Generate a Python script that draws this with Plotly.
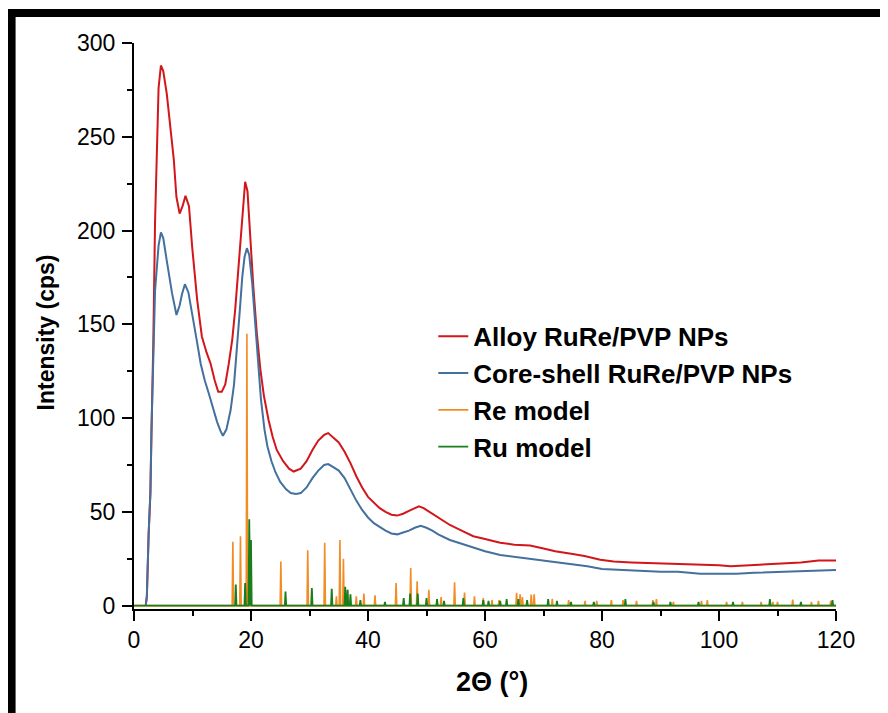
import plotly.graph_objects as go

# ---------------- data ----------------
alloy_2theta = [2.0, 2.2, 2.5, 2.8, 3.0, 3.3, 3.6, 3.9, 4.2, 4.6, 5.0, 5.6, 6.2, 6.8, 7.25, 7.8, 8.3, 8.8,
                9.4, 9.95, 10.8, 11.6, 12.4, 13.1, 13.8, 14.4, 15.0, 15.6, 16.2, 16.8, 17.3, 17.8, 18.2,
                18.6, 19.0, 19.4, 19.9, 20.4, 21.0, 21.6, 22.2, 23.0, 23.7, 24.4, 25.5, 26.5, 27.3, 28.5,
                29.5, 30.5, 31.5, 32.5, 33.2, 34, 35, 36, 37, 38, 39, 40, 41, 42, 43, 44, 45, 46, 47, 48,
                48.7, 49.5, 50.5, 52, 54, 56, 58, 60, 62.6, 65, 67.7, 70, 72, 75, 77, 79.7, 82, 85, 88,
                91, 94, 97, 100, 102, 105, 108, 111, 114, 117, 120]
alloy_intensity = [0, 5, 38, 60, 95, 140, 205, 248, 276, 288, 285, 273, 255, 238, 218, 209, 213, 218.5,
                   213, 191, 163, 143.5, 135, 129, 120, 114, 114, 118, 129, 142, 158, 178, 199,
                   215, 226, 221, 195, 170, 145, 126, 112, 99, 90, 83, 77, 73, 71.5, 73,
                   77, 83, 88, 91, 92, 90, 87, 82, 76, 69, 63, 58, 55, 52, 50, 48.5, 48, 49, 50.5, 52,
                   53, 52, 50, 47, 43, 40, 37, 35.5, 33.5, 32.5, 32, 30.5, 29, 27.5, 26.5, 24.5, 23.5, 23,
                   22.7, 22.5, 22, 21.5, 21.5, 21, 21.5, 22, 22.5, 23, 24, 24]

coreshell_2theta = [2.0, 2.2, 2.5, 2.8, 3.0, 3.3, 3.6, 3.9, 4.2, 4.6, 5.0, 5.6, 6.0, 6.5, 7.26, 7.8, 8.2,
                    8.7, 9.3, 9.95, 10.7, 11.4, 12.1, 12.8, 13.5, 14.2, 14.8, 15.2, 15.8, 16.5, 17.1,
                    17.6, 18.1, 18.5, 18.9, 19.3, 19.7, 20.2, 20.7, 21.2, 21.7, 22.3, 22.8, 23.5, 24.2,
                    25, 26, 26.8, 27.7, 28.5, 29.5, 30.5, 31.5, 32.5, 33.2, 34, 35, 36, 37, 38, 39, 40,
                    41, 42, 43, 44, 45, 46, 47, 48, 49, 50, 51, 52, 54, 56, 58, 60, 62.6, 65, 67.7, 70,
                    72.5, 75, 77.5, 80, 83, 86, 90, 93, 96.8, 100, 103, 106, 110, 113.8, 117, 120]
coreshell_intensity = [0, 5, 38, 60, 95, 140, 168, 180, 192, 199, 196, 184, 176, 166.6, 155, 160, 166,
                       171.4, 167, 156, 142, 129, 120, 113, 105, 98, 93, 90.6, 94, 104, 118,
                       136, 158, 175, 186, 190.6, 187, 172, 150, 128, 110, 94, 85, 77, 71,
                       66, 62, 60, 59.5, 60, 63, 68, 72, 75, 75.5, 74, 72, 68, 62, 56, 51, 47,
                       44, 42, 40, 38.5, 38, 39, 40, 41.5, 42.5, 41.5, 40, 38, 35, 33, 31, 29, 27, 26, 25, 24,
                       23, 22, 21, 19.5, 19, 18.5, 18, 18, 17, 17, 17, 17.5, 18, 18.3, 18.5, 19]

re_peak_2theta = [16.9, 18.2, 19.3, 25.1, 29.7, 32.6, 34.6, 35.2, 35.8, 36.5, 38.0, 39.3, 41.2, 44.8,
                  47.3, 48.4, 50.4, 52.5, 54.8, 56.5, 58.2, 59.7, 61.2, 62.4, 65.4, 66.0, 66.4, 67.9,
                  68.4, 71.5, 74.3, 77.1, 79.1, 81.6, 83.6, 85.9, 88.7, 89.3, 92.2, 97.0, 98.0, 101.3,
                  104.0, 107.2, 109.2, 110.0, 112.6, 115.8, 117.0, 119.1]
re_peak_intensity = [34, 37, 145, 23.5, 29.5, 33.5, 5, 35, 25, 8.5, 5, 6.5, 5.5, 12,
                     20, 13, 8.5, 4.5, 12.5, 7, 5, 4, 3, 3, 6.8, 6, 4.5, 5.9,
                     6, 3.6, 3, 2.5, 2.5, 3, 3, 2.5, 3, 3.5, 2, 2.5, 3, 2,
                     2, 2, 2, 2, 3.2, 2, 2.5, 2.5]

ru_peak_2theta = [17.4, 19.0, 19.7, 20.0, 25.9, 30.4, 33.8, 36.1, 36.5, 37.0, 38.7, 42.9, 46.1, 47.2,
                  48.5, 50.0, 51.8, 53.0, 56.3, 59.7, 60.6, 62.6, 63.7, 65.7, 67.2, 70.8, 72.3, 74.7,
                  78.6, 84.0, 88.8, 91.7, 96.5, 102.4, 108.7, 114.0, 119.4]
ru_peak_intensity = [11.2, 12, 46, 35, 7.5, 9.4, 9, 10, 8.5, 6, 3, 2, 4, 6.4,
                     6.4, 4, 3.5, 2.5, 4, 3, 2.5, 2.5, 3.5, 3.5, 3, 3.5, 2.5, 2,
                     2, 3.5, 2, 2, 2, 2, 3.5, 2, 3]

series_names = ["Alloy RuRe/PVP NPs", "Core-shell RuRe/PVP NPs", "Re model", "Ru model"]
series_colors = ["#D2161B", "#44709D", "#F28C24", "#1B7D1B"]

X_RANGE = [0, 120]
Y_RANGE = [-1.8, 300]


def stick_pattern(pos, inten, half_width=0.12):
    """Turn a list of model reflections into a zero-baseline line profile."""
    xs, ys = [X_RANGE[0]], [0]
    for p, h in sorted(zip(pos, inten)):
        xs += [p - half_width, p, p + half_width]
        ys += [0, h, 0]
    xs.append(X_RANGE[1])
    ys.append(0)
    return xs, ys


re_x, re_y = stick_pattern(re_peak_2theta, re_peak_intensity)
ru_x, ru_y = stick_pattern(ru_peak_2theta, ru_peak_intensity)

fig = go.Figure()
fig.add_trace(go.Scatter(x=alloy_2theta, y=alloy_intensity, mode="lines", name=series_names[0],
                         legendgroup="a", line=dict(color=series_colors[0], width=2)))
fig.add_trace(go.Scatter(x=coreshell_2theta, y=coreshell_intensity, mode="lines", name=series_names[1],
                         legendgroup="b", line=dict(color=series_colors[1], width=2)))
fig.add_trace(go.Scatter(x=re_x, y=re_y, mode="lines", name=series_names[2],
                         legendgroup="c", line=dict(color=series_colors[2], width=1.6)))
fig.add_trace(go.Scatter(x=ru_x, y=ru_y, mode="lines", name=series_names[3],
                         legendgroup="d", line=dict(color=series_colors[3], width=1.8)))

tick_font = dict(family="Liberation Sans, Arial, sans-serif", size=23, color="black")
axis_common = dict(showline=True, linecolor="black", linewidth=2, mirror=False, showgrid=False,
                   zeroline=False, ticks="outside", ticklen=10, tickwidth=2, tickcolor="black",
                   tickfont=tick_font)

fig.update_xaxes(range=X_RANGE, tick0=0, dtick=20, ticklabelstandoff=-1,
                 minor=dict(ticks="outside", ticklen=5, tickwidth=2, tickcolor="black", dtick=10, tick0=0,
                            showgrid=False),
                 **axis_common)
fig.update_yaxes(range=Y_RANGE, tick0=0, dtick=50, ticklabelstandoff=2,
                 minor=dict(ticks="outside", ticklen=5, tickwidth=2, tickcolor="black", dtick=25, tick0=0,
                            showgrid=False),
                 **axis_common)

# plot-area geometry (screen pixels of the photographed page; the page body adds an 8px offset)
OFF = 8
L, R, T, B = 133.5, 836.0, 43.0, 609.3
W, H = 888, 713
def px_x(px):
    return (px - L) / (R - L)
def px_y(py):
    return (B - py) / (B - T)

fig.add_annotation(text="<b>Intensity (cps)</b>", textangle=-90, xref="paper", yref="paper",
                   x=px_x(45), y=px_y(333), xanchor="center", yanchor="middle", showarrow=False,
                   font=dict(family="Liberation Sans, Arial, sans-serif", size=23, color="black"))
fig.add_annotation(text="<b>2Θ (°)</b>", xref="paper", yref="paper",
                   x=px_x(492), y=px_y(682), xanchor="center", yanchor="middle", showarrow=False,
                   font=dict(family="Liberation Sans, Arial, sans-serif", size=27, color="black"))

# black frame on the left and top of the picture
fig.add_shape(type="rect", xref="paper", yref="paper", x0=px_x(7), x1=px_x(15), y0=px_y(730), y1=px_y(9),
              fillcolor="black", line=dict(width=0), layer="above")
fig.add_shape(type="rect", xref="paper", yref="paper", x0=px_x(7), x1=px_x(900), y0=px_y(17), y1=px_y(9),
              fillcolor="black", line=dict(width=0), layer="above")

fig.update_layout(
    width=W, height=H,
    margin=dict(l=L - OFF, r=W - (R - OFF), t=T - OFF, b=H - (B - OFF), pad=0),
    paper_bgcolor="white", plot_bgcolor="white",
    showlegend=True,
    legend=dict(x=px_x(433), y=px_y(313), xanchor="left", yanchor="top",
                bgcolor="rgba(0,0,0,0)", borderwidth=0, tracegroupgap=0,
                font=dict(family="Liberation Sans, Arial, sans-serif", size=26, color="black"),
                itemwidth=30),
)
for tr in fig.data:
    tr.name = "<b>" + tr.name + "</b>"

fig.write_html("out.html")
